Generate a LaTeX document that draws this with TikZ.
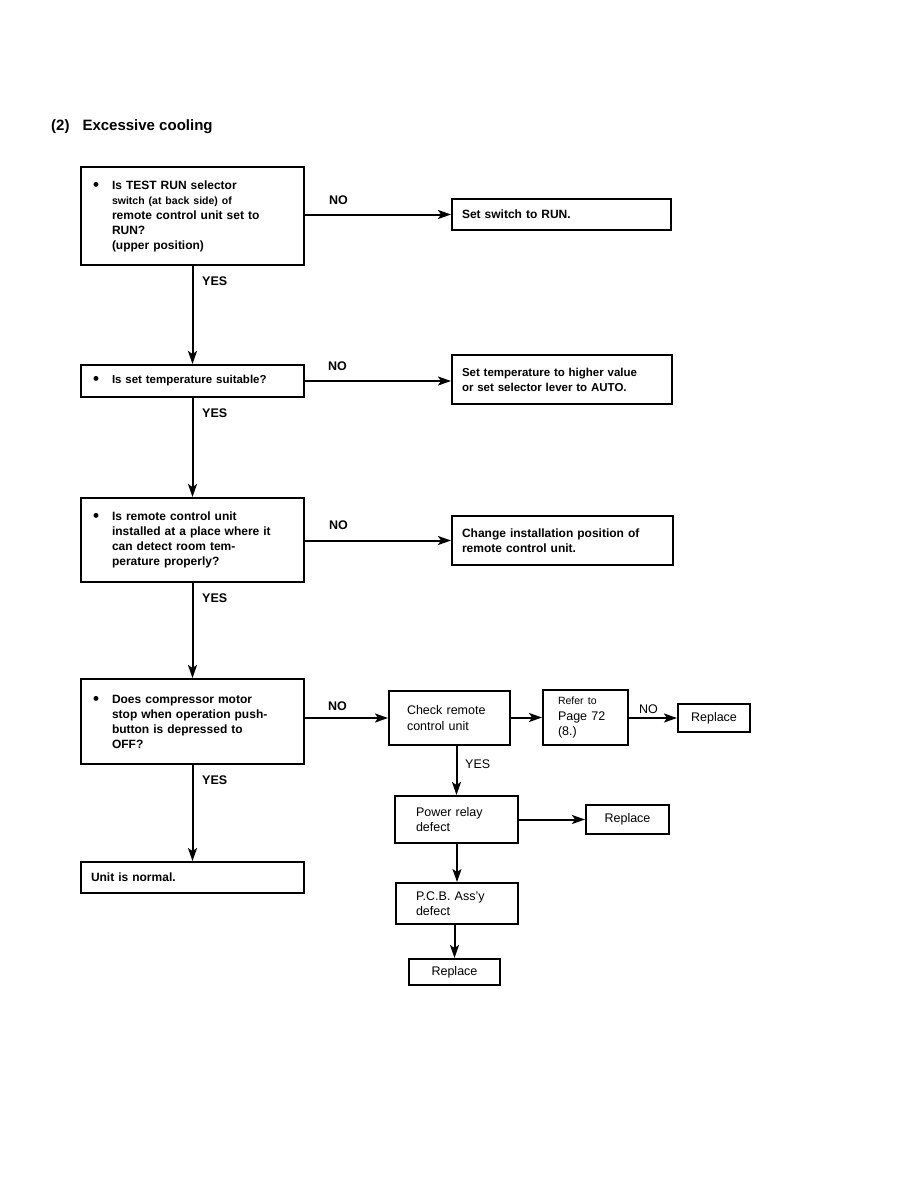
\documentclass[tikz,border=0pt]{standalone}
\usepackage{fontspec}
\setmainfont{Liberation Sans}
\usetikzlibrary{arrows.meta}
\tikzset{
  box/.style={draw, line width=2pt, rectangle, align=left, inner ysep=0pt},
  qfont/.style={font=\fontsize{12}{15}\selectfont\bfseries},
  rfont/.style={font=\fontsize{12.5}{15.5}\selectfont},
  conn/.style={line width=2pt, -{Stealth[length=13pt,width=9pt,inset=3pt]}},
  lbl/.style={font=\fontsize{12.5}{15}\selectfont\bfseries, inner sep=0pt, anchor=west},
}
\newcommand{\bul}[1]{\makebox[19pt][l]{\raisebox{-1pt}{\fontsize{17}{15}\selectfont\textbullet}}\parbox[t]{175pt}{#1}}
\begin{document}
\begin{tikzpicture}[x=1pt,y=-1pt]
\useasboundingbox (0,0) rectangle (918,1188);
\node[font=\fontsize{15}{18}\selectfont\bfseries, anchor=west, inner sep=0pt] (title) at (51,127) {(2)\hspace{13pt}Excessive cooling};

% left column
\node[box,qfont, minimum height=98pt, text width=199pt, inner xsep=12pt] (q1) at (192.5,216)
  {\bul{Is TEST RUN selector\\{\fontsize{10.5}{15}\selectfont switch (at back side) of}\\remote control unit set to\\RUN?\\(upper position)}};
\node[box,qfont, minimum height=31pt, text width=199pt, inner xsep=10pt] (a1) at (561.5,214.5)
  {Set switch to RUN.};

\node[box,qfont, font=\fontsize{11.5}{15}\selectfont\bfseries, minimum height=32pt, text width=199pt, inner xsep=12pt] (q2) at (192.5,381)
  {\bul{Is set temperature suitable?}};
\node[box,qfont, font=\fontsize{11.5}{15}\selectfont\bfseries, minimum height=49pt, text width=200pt, inner xsep=10pt] (a2) at (562,379.5)
  {Set temperature to higher value\\or set selector lever to AUTO.};

\node[box,qfont, minimum height=84pt, text width=199pt, inner xsep=12pt] (q3) at (192.5,540)
  {\bul{Is remote control unit\\installed at a place where it\\can detect room tem-\\perature properly?}};
\node[box,qfont, minimum height=49pt, text width=201pt, inner xsep=10pt] (a3) at (562.5,540.5)
  {Change installation position of\\remote control unit.};

\node[box,qfont, minimum height=85pt, text width=199pt, inner xsep=12pt] (q4) at (192.5,721.5)
  {\bul{Does compressor motor\\stop when operation push-\\button is depressed to\\OFF?}};

\node[box,qfont, minimum height=31pt, text width=203pt, inner xsep=10pt] (ok) at (192.5,877.5)
  {Unit is normal.};

% right lower part
\node[box,rfont, minimum height=54pt, text width=85pt, inner xsep=18pt] (chk) at (449.5,718)
  {Check remote\\control unit};
\node[box,rfont, minimum height=55pt, text width=55pt, inner xsep=15pt] (ref) at (585.5,717.5)
  {{\fontsize{10.5}{15}\selectfont Refer to}\\Page 72\\(8.)};
\node[box,rfont, minimum height=28pt, minimum width=72pt, align=center, inner xsep=2pt] (rp1) at (714,718)
  {Replace};
\node[box,rfont, minimum height=47pt, text width=81pt, inner xsep=21pt] (pr) at (456.5,819.5)
  {Power relay\\defect};
\node[box,rfont, minimum height=29pt, minimum width=83pt, align=center, inner xsep=2pt] (rp2) at (627.5,819.5)
  {Replace};
\node[box,rfont, minimum height=41pt, text width=82pt, inner xsep=20pt] (pcb) at (457,903.5)
  {P.C.B. Ass'y\\defect};
\node[box,rfont, minimum height=26pt, minimum width=91pt, align=center, inner xsep=2pt] (rp3) at (454.5,972)
  {Replace};

% connectors
\draw[conn] (q1.east |- a1.west) -- (a1.west);
\draw[conn] (q1.south) -- (q2.north);
\draw[conn] (q2.east) -- (q2.east -| a2.west);
\draw[conn] (q2.south) -- (q3.north);
\draw[conn] (q3.east |- a3.west) -- (a3.west);
\draw[conn] (q3.south) -- (q4.north);
\draw[conn] (q4.east |- chk.west) -- (chk.west);
\draw[conn] (q4.south) -- (ok.north);
\draw[conn] (chk.east |- ref.west) -- (ref.west);
\draw[conn] (ref.east |- rp1.west) -- (rp1.west);
\draw[conn] (pr.north |- chk.south) -- (pr.north);
\draw[conn] (pr.east) -- (rp2.west);
\draw[conn] (pcb.north |- pr.south) -- (pcb.north);
\draw[conn] (pcb.south -| rp3.north) -- (rp3.north);

% labels
\node[lbl] (n1) at (329,200) {NO};
\node[lbl] (y1) at (202,281) {YES};
\node[lbl] (n2) at (328,366) {NO};
\node[lbl] (y2) at (202,413) {YES};
\node[lbl] (n3) at (329,525) {NO};
\node[lbl] (y3) at (202,598) {YES};
\node[lbl] (n4) at (328,706) {NO};
\node[lbl] (y4) at (202,780) {YES};
\node[lbl, font=\fontsize{12.5}{15}\selectfont] (y5) at (465,764) {YES};
\node[lbl, font=\fontsize{12.5}{15}\selectfont] (n5) at (639,709) {NO};
\end{tikzpicture}
\end{document}
